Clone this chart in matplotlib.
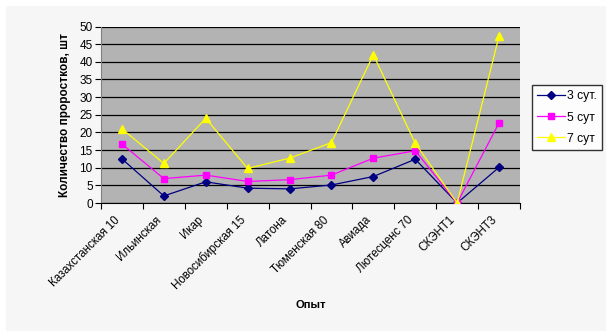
import matplotlib
matplotlib.use("Agg")
import matplotlib.pyplot as plt
import matplotlib.transforms as mtransforms
from matplotlib.patches import Rectangle
import numpy as np

categories = ["Казахстанская 10", "Ильинская", "Икар", "Новосибирская 15", "Латона",
              "Тюменская 80", "Авиада", "Лютесценс 70", "СКЭНТ1", "СКЭНТ3"]
s3 = [12.5, 2.0, 6.0, 4.2, 4.0, 5.1, 7.5, 12.4, 0.0, 10.1]
s5 = [16.7, 6.9, 7.9, 6.1, 6.6, 7.9, 12.7, 14.8, 0.0, 22.7]
s7 = [21.0, 11.2, 24.0, 9.8, 12.7, 17.1, 42.0, 16.9, 0.0, 47.3]
series_names = ["3 сут.", "5 сут", "7 сут"]
yticks = list(range(0, 51, 5))

plt.rcParams['font.family'] = ['Liberation Sans', 'DejaVu Sans']

W, H = 612, 336
fig = plt.figure(figsize=(W / 100, H / 100), dpi=100)
fig.patch.set_facecolor("white")
fig.patches.append(Rectangle((6 / W, 1 - 331 / H), 600 / W, 325 / H,
                             transform=fig.transFigure, facecolor="#f6f6f6",
                             edgecolor="none", zorder=-10))

left, right, top, bottom = 101, 520, 26.5, 203
ax = fig.add_axes([left / W, 1 - bottom / H, (right - left) / W, (bottom - top) / H])
ax.set_facecolor("#b3b3b3")

x = np.arange(len(categories))
ax.plot(x, s3, color="#000080", marker="D", markersize=4, lw=0.9, label=series_names[0], zorder=3)
ax.plot(x, s5, color="#ff00ff", marker="s", markersize=5, lw=0.9, label=series_names[1], zorder=3)
ax.plot(x, s7, color="#ffff00", marker="^", markersize=6, lw=0.9, label=series_names[2], zorder=3)

ax.set_xlim(-0.5, len(categories) - 0.5)
ax.set_ylim(0, 50)
ax.set_yticks(yticks)
ax.yaxis.grid(True, color="black", lw=0.9)
ax.set_axisbelow(True)
for sp in ["top", "right"]:
    ax.spines[sp].set_visible(False)
ax.spines["left"].set_color("#808080")
ax.spines["bottom"].set_color("black")

ax.set_xticks(np.arange(len(categories) + 1) - 0.5, minor=False)
ax.set_xticklabels([])
ax.set_xticks(x, minor=True)
ax.set_xticklabels(categories, minor=True, rotation=45, ha="right", va="center",
                   rotation_mode="anchor", fontsize=8.3)
ax.tick_params(axis="x", which="minor", length=0, pad=11)
ax.tick_params(axis="x", which="major", length=4, direction="out", color="black")
ax.tick_params(axis="y", length=4, direction="out", labelsize=8.5, pad=2)
offset = mtransforms.ScaledTranslation(-4 / 100, 0, fig.dpi_scale_trans)
for lab in ax.get_xticklabels(minor=True):
    lab.set_transform(lab.get_transform() + offset)

ax.set_ylabel("Количество проростков, шт", fontsize=8.5, fontweight="bold", labelpad=6)
fig.text(311 / W, 1 - 305 / H, "Опыт", fontsize=8, fontweight="bold", ha="center", va="center")

leg = ax.legend(loc="upper left", bbox_to_anchor=(532 / W, 1 - 85 / H), bbox_transform=fig.transFigure,
                frameon=True, fancybox=False, fontsize=8.7, handlelength=2.3, borderpad=0.45,
                labelspacing=0.75, handletextpad=0.15, borderaxespad=0)
leg.get_frame().set_edgecolor("black")
leg.get_frame().set_facecolor("white")
leg.get_frame().set_linewidth(1)

fig.savefig("out.png", dpi=100)
